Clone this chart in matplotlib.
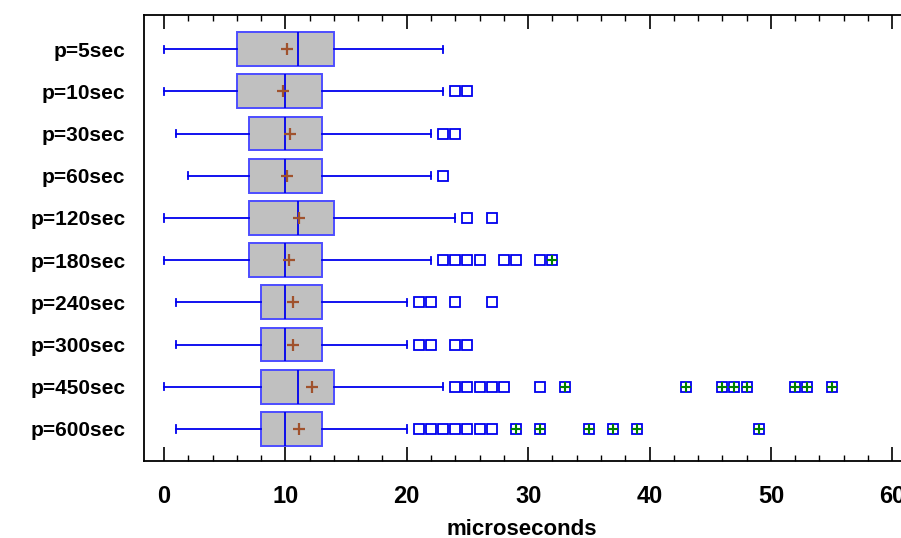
import numpy as np
import matplotlib.pyplot as plt
from matplotlib.ticker import MultipleLocator

plt.rcParams['font.family'] = ['Liberation Sans', 'DejaVu Sans']

labels = ['p=5sec', 'p=10sec', 'p=30sec', 'p=60sec', 'p=120sec',
          'p=180sec', 'p=240sec', 'p=300sec', 'p=450sec', 'p=600sec']
whis_lo = [0, 0, 1, 2, 0, 0, 1, 1, 0, 1]
q1 = [6, 6, 7, 7, 7, 7, 8, 8, 8, 8]
med = [11, 10, 10, 10, 11, 10, 10, 10, 11, 10]
q3 = [14, 13, 13, 13, 14, 13, 13, 13, 14, 13]
whis_hi = [23, 23, 22, 22, 24, 22, 20, 20, 23, 20]
means = [10.1, 9.8, 10.35, 10.1, 11.15, 10.3, 10.6, 10.6, 12.2, 11.15]
# outside points (open squares)
outside = [
    [],
    [24, 25],
    [23, 24],
    [23],
    [25, 27],
    [23, 24, 25, 26, 28, 29, 31],
    [21, 22, 24, 27],
    [21, 22, 24, 25],
    [24, 25, 26, 27, 28, 31],
    [21, 22, 23, 24, 25, 26, 27],
]
# far outside points (squares with plus)
far_out = [
    [], [], [], [], [],
    [32],
    [], [],
    [33, 43, 46, 47, 48, 52, 53, 55],
    [29, 31, 35, 37, 39, 49],
]

fig = plt.figure(figsize=(9.01, 5.38), dpi=100)
ax = fig.add_axes([143.5 / 901, 1 - 461 / 538, 1 - 143.5 / 901, (461 - 14.5) / 538])

blue = '#0000ee'
pos = np.arange(1, len(labels) + 1)
stats = []
for i in range(len(labels)):
    stats.append(dict(whislo=whis_lo[i], q1=q1[i], med=med[i], q3=q3[i],
                      whishi=whis_hi[i], mean=means[i], fliers=[]))

ax.bxp(stats, positions=pos, vert=False, widths=0.8, patch_artist=True,
       showmeans=True, showfliers=False, capwidths=0.17,
       boxprops=dict(facecolor='#c0c0c0', edgecolor='#4d4dff', linewidth=1.4),
       medianprops=dict(color=blue, linewidth=1.3),
       whiskerprops=dict(color=blue, linewidth=1.3),
       capprops=dict(color=blue, linewidth=1.3),
       meanprops=dict(marker='+', markeredgecolor='#a0522d', markersize=8,
                      markeredgewidth=1.6))

for i in range(len(labels)):
    if outside[i]:
        ax.plot(outside[i], [pos[i]] * len(outside[i]), 's', markersize=6.5,
                markerfacecolor='none', markeredgecolor=blue, markeredgewidth=1.3)
    if far_out[i]:
        ax.plot(far_out[i], [pos[i]] * len(far_out[i]), 's', markersize=6.5,
                markerfacecolor='none', markeredgecolor=blue, markeredgewidth=1.3)
        ax.plot(far_out[i], [pos[i]] * len(far_out[i]), '+', markersize=6.5,
                markeredgecolor='#008000', markeredgewidth=1.5)

ax.set_xlim(-1.69, 60.72)
ax.set_ylim(10.76, 0.18)
ax.set_yticks(pos)
ax.set_yticklabels(labels, fontsize=15, fontweight='bold')
ax.tick_params(axis='y', length=0, pad=13)

ax.xaxis.set_major_locator(MultipleLocator(10))
ax.xaxis.set_minor_locator(MultipleLocator(2))
ax.tick_params(axis='x', which='major', direction='in', length=10, width=1.2,
               top=True, labelsize=17, pad=17)
ax.tick_params(axis='x', which='minor', direction='in', length=4, width=1.0, top=True)
for lab in ax.get_xticklabels():
    lab.set_fontweight('bold')
ax.set_xlabel('microseconds', fontsize=16, fontweight='bold', labelpad=8)

ax.spines['right'].set_visible(False)
for s in ['left', 'top', 'bottom']:
    ax.spines[s].set_linewidth(1.3)

fig.savefig('out.png', dpi=100)
